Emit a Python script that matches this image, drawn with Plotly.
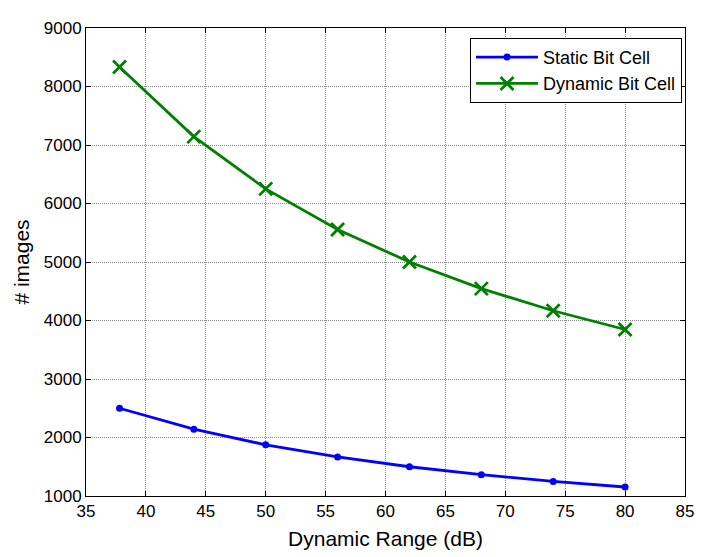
import plotly.graph_objects as go

dynamic_range_db = [37.8, 44, 50, 56, 62, 68, 74, 80]
static_bit_cell = [2500, 2143, 1875, 1667, 1500, 1364, 1250, 1154]
dynamic_bit_cell = [8333, 7143, 6250, 5556, 5000, 4545, 4167, 3846]

x_ticks = [35, 40, 45, 50, 55, 60, 65, 70, 75, 80, 85]
y_ticks = [1000, 2000, 3000, 4000, 5000, 6000, 7000, 8000, 9000]

font_family = "Liberation Sans, Arial, sans-serif"

fig = go.Figure()
fig.add_trace(go.Scatter(
    x=dynamic_range_db, y=static_bit_cell, name="Static Bit Cell",
    mode="lines+markers",
    line=dict(color="#0000FF", width=2.8),
    marker=dict(symbol="circle", size=7, color="#0000FF"),
))
fig.add_trace(go.Scatter(
    x=dynamic_range_db, y=dynamic_bit_cell, name="Dynamic Bit Cell",
    mode="lines+markers",
    line=dict(color="#008000", width=2.8),
    marker=dict(symbol="x-thin-open", size=13, color="#008000",
                line=dict(color="#008000", width=2.8)),
))

axis_common = dict(
    showline=True, linecolor="black", linewidth=1, mirror="allticks",
    ticks="inside", ticklen=5, tickcolor="black", tickwidth=1,
    showgrid=True, gridcolor="#888888", griddash="1px,1px", gridwidth=1,
    zeroline=False,
    tickfont=dict(family=font_family, size=17, color="black"),
)

fig.update_xaxes(range=[35, 85], tickvals=x_ticks,
                 title=dict(text="Dynamic Range (dB)", standoff=10,
                            font=dict(family=font_family, size=21, color="black")),
                 **axis_common)
fig.update_yaxes(range=[1000, 9000], tickvals=y_ticks,
                 title=dict(text="# images", standoff=8,
                            font=dict(family=font_family, size=21, color="black")),
                 **axis_common)

fig.update_layout(
    width=697, height=549,
    margin=dict(l=78, r=12, t=11, b=59),
    paper_bgcolor="white", plot_bgcolor="white",
    showlegend=True,
    legend=dict(x=0.995, y=0.979, xanchor="right", yanchor="top",
                bgcolor="white", bordercolor="black", borderwidth=1,
                font=dict(family=font_family, size=18, color="black"),
                tracegroupgap=0, itemwidth=62),
)

fig.write_html("out.html")
